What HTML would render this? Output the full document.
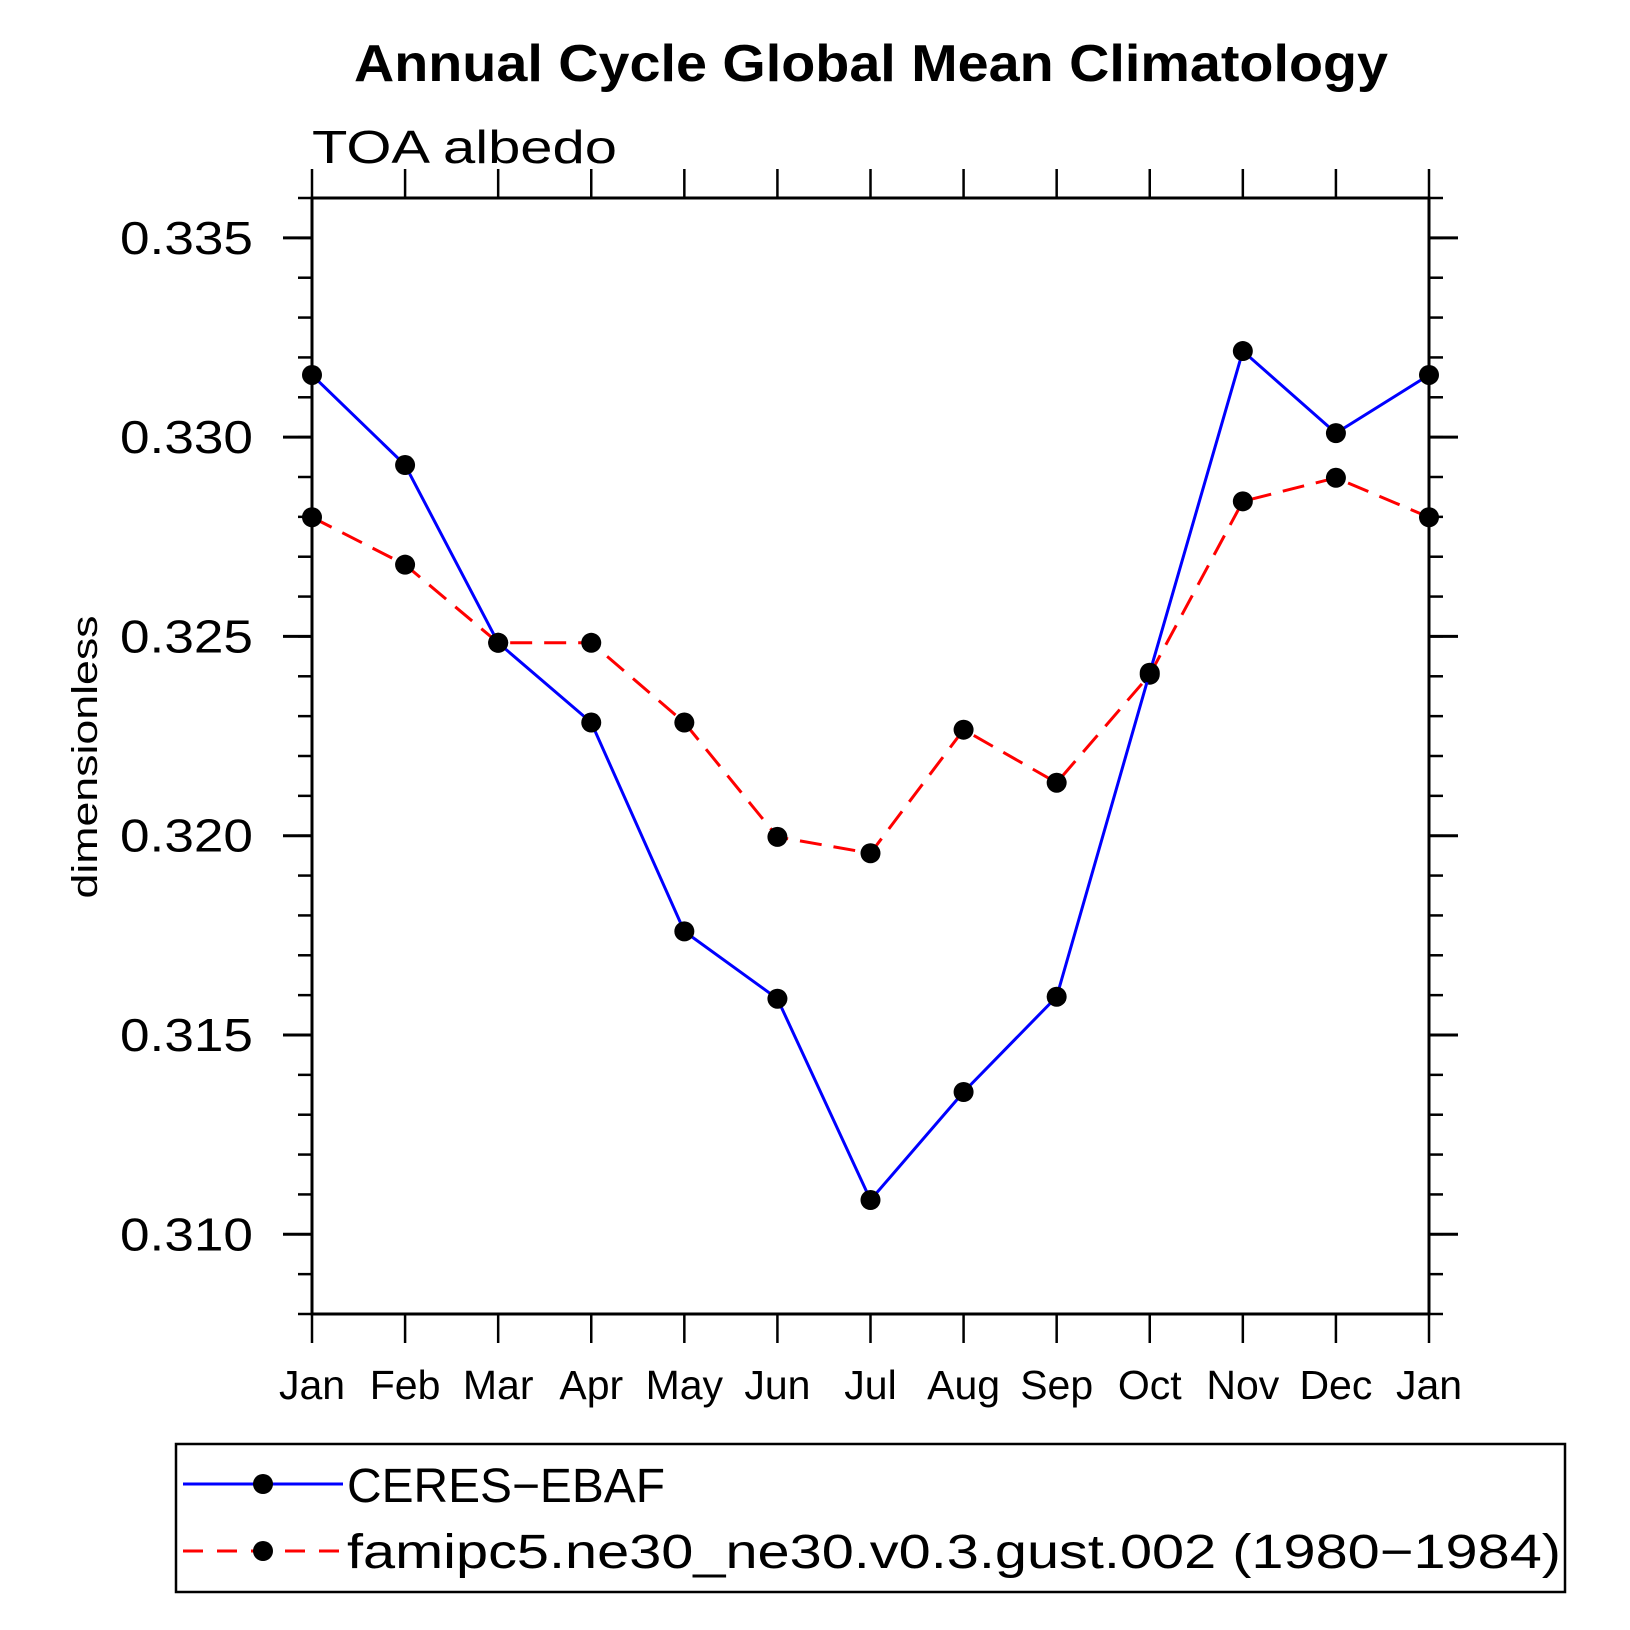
<!DOCTYPE html>
<html><head><meta charset="utf-8"><style>
html,body{margin:0;padding:0;background:#fff;}
svg{display:block;}
text{font-family:"Liberation Sans",sans-serif;}
</style></head><body>
<svg id="chart" width="1630" height="1630" viewBox="0 0 1630 1630" xmlns="http://www.w3.org/2000/svg">
<text x="871" y="81" text-anchor="middle" font-size="52" font-weight="bold" textLength="1034" lengthAdjust="spacingAndGlyphs">Annual Cycle Global Mean Climatology</text>
<text x="312" y="163" font-size="46" font-weight="300" textLength="305" lengthAdjust="spacingAndGlyphs">TOA albedo</text>
<text transform="translate(97,757) rotate(-90)" text-anchor="middle" font-size="36" textLength="283" lengthAdjust="spacingAndGlyphs">dimensionless</text>
<g id="axes"></g>
<g id="series"></g>
<g id="legend">
<rect x="176" y="1444" width="1389" height="148" fill="none" stroke="#000" stroke-width="2.5"/>
<g>
<line x1="183" y1="1484" x2="343" y2="1484" stroke="#0000ff" stroke-width="3"/>
<circle cx="263" cy="1484" r="10" fill="#000"/>
<text x="347" y="1502" font-size="48" textLength="318" lengthAdjust="spacingAndGlyphs">CERES−EBAF</text>
</g>
<g>
<line x1="183" y1="1551" x2="343" y2="1551" stroke="#ff0000" stroke-width="3" stroke-dasharray="20,14"/>
<circle cx="263" cy="1551" r="10" fill="#000"/>
<text x="347" y="1568" font-size="48" textLength="1214" lengthAdjust="spacingAndGlyphs">famipc5.ne30_ne30.v0.3.gust.002 (1980−1984)</text>
</g>
</g>
</svg>
<script>
const months = ["Jan","Feb","Mar","Apr","May","Jun","Jul","Aug","Sep","Oct","Nov","Dec","Jan"];
const ceres = [0.33156,0.32930,0.32484,0.32284,0.31760,0.31591,0.31086,0.31357,0.31596,0.32409,0.33216,0.33010,0.33156];
const model = [0.32799,0.32680,0.32484,0.32484,0.32284,0.31997,0.31956,0.32266,0.32133,0.32404,0.32839,0.32898,0.32799];
const yTicks = [0.310,0.315,0.320,0.325,0.330,0.335];
const yTickLabels = ["0.310","0.315","0.320","0.325","0.330","0.335"];
const yMin = 0.308, yMax = 0.336;
const L=312, R=1429, T=198, B=1314;
const NS="http://www.w3.org/2000/svg";
function x(i){return L + i*(R-L)/(months.length-1);}
function y(v){return B - (v-yMin)/(yMax-yMin)*(B-T);}
function mk(tag,attrs,parent){const e=document.createElementNS(NS,tag);for(const k in attrs)e.setAttribute(k,attrs[k]);parent.appendChild(e);return e;}
const axes=document.getElementById('axes');
const frame=mk('rect',{x:L,y:T,width:R-L,height:B-T,fill:'none',stroke:'#000','stroke-width':3},axes);


months.forEach((m,i)=>{
  const t1=mk('line',{x1:x(i),y1:B,x2:x(i),y2:B+29,stroke:'#000','stroke-width':2.5},axes);
  
  
  const t2=mk('line',{x1:x(i),y1:T,x2:x(i),y2:T-29,stroke:'#000','stroke-width':2.5},axes);
  
  
  const lb=mk('text',{x:x(i),y:1399,'text-anchor':'middle','font-size':41},axes);
  
  
  lb.textContent=m;
});
for(let k=0;k<=Math.round((yMax-yMin)*1000);k++){
  const v=yMin+k*0.001;
  const yy=y(v);
  const a=mk('line',{x1:L-14,y1:yy,x2:L,y2:yy,stroke:'#000','stroke-width':2.5},axes);
  
  
  const b=mk('line',{x1:R,y1:yy,x2:R+14,y2:yy,stroke:'#000','stroke-width':2.5},axes);
  
  
}
yTicks.forEach((v,i)=>{
  const yy=y(v);
  const a=mk('line',{x1:L-29,y1:yy,x2:L,y2:yy,stroke:'#000','stroke-width':3},axes);
  
  
  const b=mk('line',{x1:R,y1:yy,x2:R+29,y2:yy,stroke:'#000','stroke-width':3},axes);
  
  
  const lb=mk('text',{x:253,y:yy+16,'text-anchor':'end','font-size':46,textLength:133,lengthAdjust:'spacingAndGlyphs'},axes);
  
  
  lb.textContent=yTickLabels[i];
});
const series=document.getElementById('series');
function draw(vals,color,dash,name){
  const g=mk('g',{},series);
  
  
  const pts=vals.map((v,i)=>x(i)+','+y(v)).join(' ');
  const pl=mk('polyline',{points:pts,fill:'none',stroke:color,'stroke-width':3,'stroke-dasharray':dash},g);
  
  
  vals.forEach((v,i)=>{
    const c=mk('circle',{cx:x(i),cy:y(v),r:10,fill:'#000'},g);
    
    
  });
}
draw(model,'#ff0000','22,12','model-series');
draw(ceres,'#0000ff','none','ceres-series');
</script>
</body></html>
